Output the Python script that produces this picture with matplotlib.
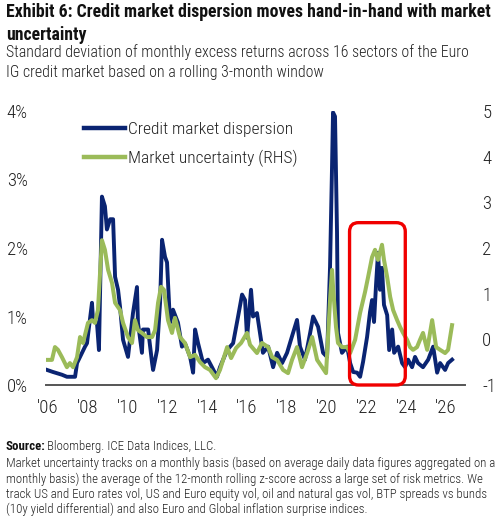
import matplotlib
matplotlib.use("Agg")
import matplotlib.pyplot as plt
from matplotlib.patches import FancyBboxPatch
from matplotlib.lines import Line2D
from matplotlib.transforms import IdentityTransform

# ---- data (dates as fractional years) ----
disp_t = [2005.95, 2006.25, 2006.70, 2006.95, 2007.36, 2007.46, 2007.61, 2007.86, 2007.96,
          2008.21, 2008.26, 2008.46, 2008.56, 2008.71, 2008.86, 2008.96, 2009.12, 2009.27,
          2009.37, 2009.52, 2009.62, 2009.77, 2010.02, 2010.27, 2010.47, 2010.52, 2010.72,
          2010.77, 2011.03, 2011.23, 2011.28, 2011.48, 2011.63, 2011.73, 2011.88, 2011.98,
          2012.13, 2012.28, 2012.53, 2012.73, 2012.88, 2013.14, 2013.29, 2013.39, 2013.54,
          2013.79, 2014.04, 2014.49, 2014.64, 2015.00, 2015.30, 2015.55, 2015.75, 2015.90,
          2016.00, 2016.20, 2016.30, 2016.50, 2016.65, 2016.80, 2017.06, 2017.31, 2017.51,
          2017.76, 2018.01, 2018.31, 2018.51, 2018.66, 2018.91, 2019.17, 2019.32, 2019.57,
          2019.82, 2020.02, 2020.17, 2020.27, 2020.32, 2020.42, 2020.52, 2020.57, 2020.77,
          2021.03, 2021.18, 2021.33, 2021.53, 2021.68, 2021.83, 2022.03, 2022.18, 2022.28,
          2022.38, 2022.48, 2022.58, 2022.68, 2022.78, 2022.88, 2023.04, 2023.14, 2023.29,
          2023.39, 2023.59, 2023.79, 2023.94, 2024.09, 2024.29, 2024.44, 2024.59, 2024.84,
          2025.10, 2025.35, 2025.55, 2025.70, 2025.95, 2026.10, 2026.30]
disp_v = [0.22, 0.19, 0.15, 0.12, 0.12, 0.32, 0.41, 0.56, 0.61,
          1.20, 0.95, 0.91, 0.51, 2.75, 2.61, 2.27, 2.42, 2.42,
          1.58, 1.39, 1.14, 0.66, 0.41, 1.05, 1.43, 0.91, 0.47,
          0.81, 0.81, 0.32, 0.22, 0.51, 1.20, 2.12, 1.87, 1.79,
          0.91, 1.10, 0.91, 0.56, 0.61, 0.41, 0.18, 0.81, 0.61,
          0.32, 0.37, 0.12, 0.26, 0.51, 0.61, 1.00, 1.32, 1.24,
          0.69, 1.39, 1.00, 1.05, 0.76, 0.47, 0.56, 0.26, 0.47,
          0.32, 0.47, 0.76, 0.95, 0.56, 0.37, 0.76, 1.00, 0.85,
          0.47, 0.41, 1.73, 3.19, 3.98, 3.92, 2.23, 0.76, 0.47,
          0.56, 0.32, 0.19, 0.18, 0.12, 0.34, 0.70, 1.07, 1.24,
          0.92, 1.46, 1.93, 1.39, 1.71, 1.17, 1.02, 0.51, 0.81,
          0.47, 0.56, 0.32, 0.26, 0.37, 0.26, 0.41, 0.32, 0.26,
          0.37, 0.56, 0.18, 0.32, 0.22, 0.32, 0.37]

unc_t = [2005.95, 2006.20, 2006.35, 2006.50, 2006.70, 2006.95, 2007.10, 2007.26, 2007.46,
         2007.61, 2007.76, 2008.01, 2008.21, 2008.36, 2008.51, 2008.71, 2008.86, 2009.02,
         2009.22, 2009.37, 2009.62, 2009.77, 2010.02, 2010.22, 2010.37, 2010.52, 2010.72,
         2010.97, 2011.23, 2011.38, 2011.53, 2011.68, 2011.83, 2012.03, 2012.23, 2012.38,
         2012.63, 2012.88, 2013.14, 2013.39, 2013.64, 2013.89, 2014.14, 2014.44, 2014.64,
         2015.00, 2015.20, 2015.45, 2015.70, 2016.00, 2016.15, 2016.50, 2016.75, 2017.06,
         2017.26, 2017.51, 2017.81, 2018.06, 2018.26, 2018.51, 2018.76, 2019.02, 2019.27,
         2019.52, 2019.77, 2019.97, 2020.17, 2020.27, 2020.32, 2020.47, 2020.57, 2020.77,
         2021.03, 2021.18, 2021.43, 2021.68, 2021.93, 2022.08, 2022.28, 2022.43, 2022.58,
         2022.78, 2022.88, 2023.04, 2023.19, 2023.34, 2023.54, 2023.69, 2023.84, 2024.04,
         2024.19, 2024.34, 2024.54, 2024.69, 2024.84, 2025.05, 2025.30, 2025.50, 2025.70,
         2025.95, 2026.10, 2026.30]
unc_v = [-0.45, -0.45, -0.17, -0.23, -0.39, -0.61, -0.52, -0.61, -0.39,
         0.05, -0.08, 0.36, 0.42, 0.36, 0.64, 2.17, 1.96, 1.52,
         1.23, 0.80, 0.64, 0.36, 0.05, -0.08, 0.42, 0.20, 0.14,
         0.05, 0.05, 0.20, 0.80, 1.15, 1.08, 0.42, 0.14, 0.47,
         0.05, -0.08, -0.39, -0.34, -0.50, -0.61, -0.67, -0.85, -0.67,
         -0.17, -0.41, -0.19, -0.08, 0.14, -0.12, -0.30, -0.08, -0.17,
         -0.39, -0.45, -0.67, -0.74, -0.45, -0.17, -0.61, -0.30, 0.05,
         -0.45, -0.61, -0.74, 0.86, 1.52, 1.15, 0.27, -0.08, -0.17,
         -0.17, -0.30, -0.01, 0.58, 1.04, 1.36, 1.80, 1.96, 1.74,
         2.07, 1.74, 1.36, 0.93, 0.64, 0.42, 0.27, 0.14, -0.01,
         -0.17, -0.23, -0.17, -0.01, 0.14, -0.23, 0.42, -0.17, -0.23,
         -0.30, -0.23, 0.31]

x_ticks = [2006, 2008, 2010, 2012, 2014, 2016, 2018, 2020, 2022, 2024, 2026]
x_labels = ["'06", "'08", "'10", "'12", "'14", "'16", "'18", "'20", "'22", "'24", "'26"]
left_ticks = [0, 1, 2, 3, 4]
left_labels = ["0%", "1%", "2%", "3%", "4%"]
right_ticks = [-1, 0, 1, 2, 3, 4, 5]
highlight_t = [2021.15, 2023.95]
highlight_v = [0.0, 2.37]

BLUE = "#0A2472"
GREEN = "#9BBB59"
RED = "#F00000"
FONT = ["Roboto Condensed", "DejaVu Sans"]
plt.rcParams['font.family'] = FONT
LIGHT = "light"

W, H = 503, 524
fig = plt.figure(figsize=(W / 100, H / 100), dpi=100)
ax = fig.add_axes([46 / W, (H - 385) / H, (465 - 46) / W, (385 - 111) / H])
ax2 = ax.twinx()

ax.plot(disp_t, disp_v, color=BLUE, lw=2.8, solid_joinstyle="round", zorder=3)
ax2.plot(unc_t, unc_v, color=GREEN, lw=2.9, solid_joinstyle="round", zorder=3)

ax.set_xlim(2005.9, 2026.95)
ax.set_ylim(0, 4)
ax2.set_ylim(-1, 5)
ax.set_xticks(x_ticks)
ax.set_xticklabels(x_labels)
ax.set_yticks(left_ticks)
ax.set_yticklabels(left_labels)
ax2.set_yticks(right_ticks)
ax2.set_yticklabels([str(v) for v in right_ticks])

for a in (ax, ax2):
    for s in ("top", "left", "right", "bottom"):
        a.spines[s].set_visible(False)
    a.tick_params(length=0, labelsize=13.5, colors="#222222")
    for lab in a.get_xticklabels() + a.get_yticklabels():
        lab.set_fontweight(LIGHT)
ax.spines["bottom"].set_visible(True)
ax.spines["bottom"].set_color("#555555")
ax.spines["bottom"].set_linewidth(1.4)
ax.tick_params(axis="x", pad=10)
ax.tick_params(axis="y", pad=13)
ax2.tick_params(axis="y", pad=12.5)
ax.patch.set_visible(False)

# highlight box
fig.canvas.draw()
(x0, y0) = ax.transData.transform((highlight_t[0], highlight_v[0]))
(x1, y1) = ax.transData.transform((highlight_t[1], highlight_v[1]))
box = FancyBboxPatch((x0, y0), x1 - x0, y1 - y0,
                     boxstyle="round,pad=0,rounding_size=9",
                     transform=IdentityTransform(), fill=False,
                     edgecolor=RED, lw=2.4, zorder=10)
fig.add_artist(box)

# legend
handles = [Line2D([], [], color=BLUE, lw=3.2), Line2D([], [], color=GREEN, lw=3.2)]
leg = ax2.legend(handles, ["Credit market dispersion", "Market uncertainty (RHS)"],
                 loc="upper left", bbox_to_anchor=(0.075, 0.985), frameon=False,
                 fontsize=12.5, handlelength=2.36, handletextpad=0.15, labelspacing=0.75,
                 borderaxespad=0)
for t in leg.get_texts():
    t.set_color("#222222")
    t.set_fontweight(LIGHT)

# texts
fig.text(6 / W, 1 - 3 / H, "Exhibit 6: Credit market dispersion moves hand-in-hand with market\nuncertainty",
         fontsize=12.75, fontweight="bold", va="top", ha="left", linespacing=1.38, color="#111111")
fig.text(6 / W, 1 - 44 / H, "Standard deviation of monthly excess returns across 16 sectors of the Euro\nIG credit market based on a rolling 3-month window",
         fontsize=11.4, fontweight=LIGHT, va="top", ha="left", linespacing=1.42, color="#222222")

fig.text(6 / W, 1 - 440 / H, "Source:", fontsize=9.3, fontweight="bold", va="top", ha="left", color="#111111")
fig.text(47 / W, 1 - 440 / H, "Bloomberg. ICE Data Indices, LLC.", fontsize=9.3, fontweight=LIGHT,
         va="top", ha="left", color="#222222")
fig.text(6 / W, 1 - 457 / H,
         "Market uncertainty tracks on a monthly basis (based on average daily data figures aggregated on a\n"
         "monthly basis) the average of the 12-month rolling z-score across a large set of risk metrics. We\n"
         "track US and Euro rates vol, US and Euro equity vol, oil and natural gas vol, BTP spreads vs bunds\n"
         "(10y yield differential) and also Euro and Global inflation surprise indices.",
         fontsize=9.3, fontweight=LIGHT, va="top", ha="left", linespacing=1.2, color="#222222")

fig.savefig("out.png", dpi=100)
